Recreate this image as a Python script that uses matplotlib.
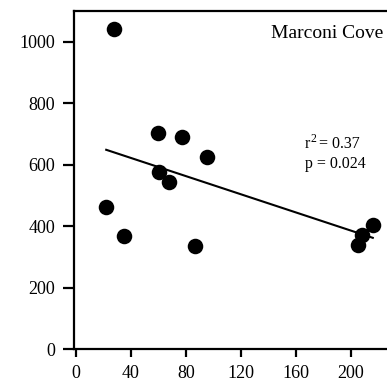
import numpy as np
import matplotlib
matplotlib.use("Agg")
import matplotlib.pyplot as plt

plt.rcParams["font.family"] = ["Liberation Serif", "DejaVu Serif"]

# site observations
site = "Marconi Cove"
x_vals = [27.4, 59.6, 77.0, 60.3, 67.4, 95.7, 22.0, 35.1, 86.3, 205.5, 208.0, 216.0]
y_vals = [1040, 704, 689, 577, 545, 624, 464, 368, 336, 339, 372, 404]
r2_label = "0.37"
p_label = "0.024"
x_ticks = [0, 40, 80, 120, 160, 200]
y_ticks = [0, 200, 400, 600, 800, 1000]

x = np.array(x_vals)
y = np.array(y_vals)
slope, intercept = np.polyfit(x, y, 1)
xfit = np.array([x.min(), x.max()])

fig = plt.figure(figsize=(3.87, 3.88), dpi=100)
ax = fig.add_axes([0.191, 0.0997, 0.822, 0.872])

ax.scatter(x, y, s=125, color="black", zorder=3, linewidths=0)
ax.plot(xfit, slope * xfit + intercept, color="black", lw=1.5, zorder=2)

ax.set_xlim(-1.5, 230)
ax.set_ylim(0, 1100)
ax.set_xticks(x_ticks)
ax.set_yticks(y_ticks)
for s in ax.spines.values():
    s.set_linewidth(1.6)
ax.spines["right"].set_visible(False)
ax.tick_params(axis="y", length=8, width=1.6, pad=5.5, labelsize=13)
ax.tick_params(axis="x", length=5.5, width=1.6, pad=6, labelsize=13)

fig.text(383 / 387, 1 - 38 / 388, site, ha="right", va="baseline", fontsize=14)

# r^2 built from pieces so the superscript stays large
x0, yb = 305 / 387, 1 - 148 / 388
fig.text(x0, yb, "r", ha="left", va="baseline", fontsize=11.5)
fig.text(x0 + 5.5 / 387, yb + 6 / 388, "2", ha="left", va="baseline", fontsize=8.5)
fig.text(x0 + 14 / 387, yb, "= " + r2_label, ha="left", va="baseline", fontsize=11.5)
fig.text(x0, 1 - 168 / 388, "p = " + p_label, ha="left", va="baseline", fontsize=11.5)

fig.savefig("out.png", dpi=100)
